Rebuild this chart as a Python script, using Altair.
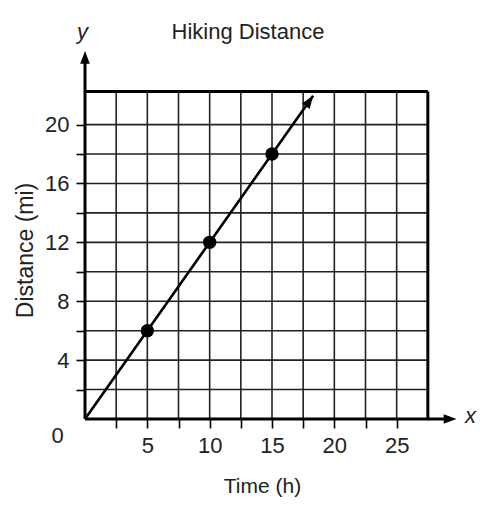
import altair as alt
import pandas as pd
import numpy as np

# ---- data ----
point_x = [5, 10, 15]
point_y = [6, 12, 18]
line_x = [0, 18.3]
line_y = [0, 21.96]
x_grid = [2.5, 5, 7.5, 10, 12.5, 15, 17.5, 20, 22.5, 25]
y_grid = [2, 4, 6, 8, 10, 12, 14, 16, 18, 20]
x_border = 27.5
y_border = 22.25
x_tip = 29.8
y_tip = 25
x_domain = [0, 30]
y_domain = [0, 25]

W, H = 374, 368
FONT = "Liberation Sans"
ARROW = "M0,0L-0.6,1.6L0.6,1.6Z"

xs = alt.Scale(domain=x_domain, nice=False, zero=False)
ys = alt.Scale(domain=y_domain, nice=False, zero=False)

AX = alt.Axis(
    values=x_grid, domain=False, grid=False, tickSize=9, tickWidth=1.6,
    tickColor="#000", labelExpr="datum.value % 5 == 0 ? datum.label : ''",
    labelFontSize=22, labelFont=FONT, labelColor="#222", labelPadding=7,
    labelFlush=False, labelOverlap=False,
    title="Time (h)", titleFont=FONT, titleFontSize=21, titleFontWeight="normal",
    titleColor="#222", titleX=177, titleY=73, titleBaseline="alphabetic",
    titleAlign="center",
)
AY = alt.Axis(
    values=y_grid, domain=False, grid=False, tickSize=9, tickWidth=1.6,
    tickColor="#000", labelExpr="datum.value % 4 == 0 ? datum.label : ''",
    labelFontSize=22, labelFont=FONT, labelColor="#222", labelPadding=7,
    labelFlush=False, labelOverlap=False,
    title="Distance (mi)", titleFont=FONT, titleFontSize=23, titleFontWeight="normal",
    titleColor="#222", titleX=-53, titleY=199, titleAngle=270,
    titleBaseline="alphabetic", titleAlign="center",
)

def X(f):
    return alt.X(f, scale=xs, axis=AX)

def Y(f):
    return alt.Y(f, scale=ys, axis=AY)

# vertical grid lines
vgrid = alt.Chart(pd.DataFrame({"x": x_grid, "y0": 0, "y1": y_border})).mark_rule(
    color="#222", strokeWidth=1.6
).encode(x=X("x:Q"), y=Y("y0:Q"), y2="y1:Q")
# horizontal grid lines
hgrid = alt.Chart(pd.DataFrame({"y": y_grid, "x0": 0, "x1": x_border})).mark_rule(
    color="#222", strokeWidth=1.6
).encode(y=Y("y:Q"), x=X("x0:Q"), x2="x1:Q")
# frame (top and right)
top_border = alt.Chart(pd.DataFrame({"y": [y_border], "x0": [0], "x1": [x_border]})).mark_rule(
    color="#000", strokeWidth=3
).encode(y=Y("y:Q"), x=X("x0:Q"), x2="x1:Q")
right_border = alt.Chart(pd.DataFrame({"x": [x_border], "y0": [0], "y1": [y_border]})).mark_rule(
    color="#000", strokeWidth=3
).encode(x=X("x:Q"), y=Y("y0:Q"), y2="y1:Q")
# axis lines with arrows
x_axis_line = alt.Chart(pd.DataFrame({"y": [0], "x0": [0], "x1": [x_tip - 0.5]})).mark_rule(
    color="#000", strokeWidth=3
).encode(y=Y("y:Q"), x=X("x0:Q"), x2="x1:Q")
y_axis_line = alt.Chart(pd.DataFrame({"x": [0], "y0": [0], "y1": [y_tip - 0.4]})).mark_rule(
    color="#000", strokeWidth=3
).encode(x=X("x:Q"), y=Y("y0:Q"), y2="y1:Q")

ppx = W / (x_domain[1] - x_domain[0])
ppy = H / (y_domain[1] - y_domain[0])
line_angle = float(np.degrees(np.arctan2((line_x[1] - line_x[0]) * ppx,
                                         (line_y[1] - line_y[0]) * ppy)))
arrows_df = pd.DataFrame({
    "x": [x_tip, 0, line_x[-1]],
    "y": [0, y_tip, line_y[-1]],
    "a": [90, 0, line_angle],
})
arrows = alt.Chart(arrows_df).mark_point(
    shape=ARROW, filled=True, color="#000", size=256, opacity=1, strokeWidth=0
).encode(x=X("x:Q"), y=Y("y:Q"), angle=alt.Angle("a:Q", scale=None))
# the line
line = alt.Chart(pd.DataFrame({"x": line_x, "y": line_y})).mark_line(
    color="#000", strokeWidth=2.6
).encode(x=X("x:Q"), y=Y("y:Q"))
# points
points = alt.Chart(pd.DataFrame({"x": point_x, "y": point_y})).mark_point(
    filled=True, color="#000", size=180, opacity=1, shape="circle"
).encode(x=X("x:Q"), y=Y("y:Q"))

def label(text, x, y, dx, dy, size=22, style="normal", baseline="alphabetic"):
    return alt.Chart(pd.DataFrame({"t": [text], "x": [x], "y": [y]})).mark_text(
        font=FONT, fontSize=size, fontStyle=style, color="#222",
        align="center", baseline=baseline, dx=dx, dy=dy,
    ).encode(x=X("x:Q"), y=Y("y:Q"), text="t:N")

title = label("Hiking Distance", 0, y_tip, 163, -12.5)
y_lab = label("y", 0, y_tip, -2.5, -12.5, style="italic")
x_lab = label("x", x_tip, 0, 14, 4, style="italic")
zero_lab = label("0", 0, 0, -27.5, 16.5, baseline="middle")

chart = alt.layer(
    vgrid, hgrid, top_border, right_border, x_axis_line, y_axis_line,
    line, arrows, points, title, y_lab, x_lab, zero_lab,
).properties(
    width=W, height=H,
    autosize=alt.AutoSizeParams(type="none"),
    padding={"left": 77, "top": 43, "right": 30, "bottom": 81},
    background="white",
).configure_view(strokeWidth=0)

chart.save("out.html", embed_options={"renderer": "svg", "actions": False})
